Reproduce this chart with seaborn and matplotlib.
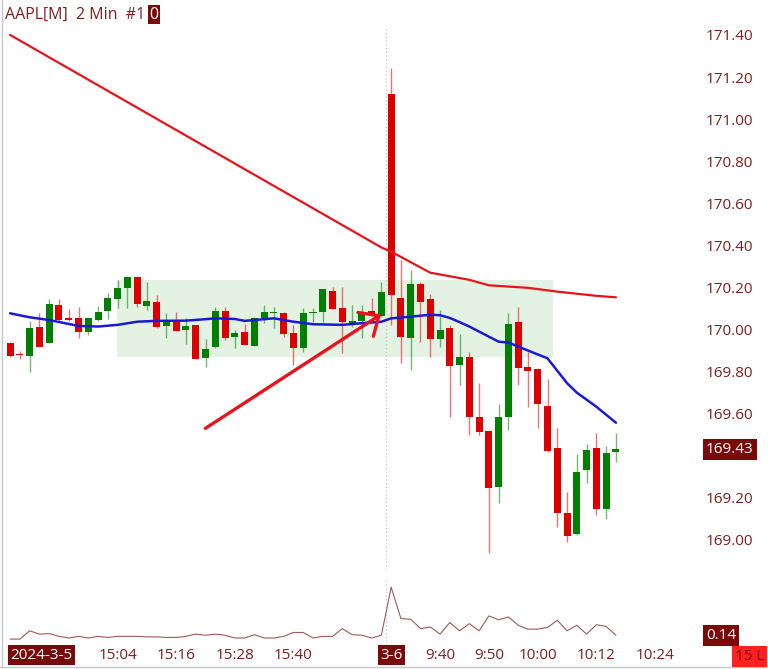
import numpy as np
import pandas as pd
import matplotlib
matplotlib.use('Agg')
import matplotlib.pyplot as plt
import seaborn as sns
from matplotlib.patches import Rectangle
from matplotlib.lines import Line2D
import matplotlib.transforms as mtransforms

# 2 min bars: 3-5 14:42..15:58 (39 bars), 3-6 9:30..10:16 (24 bars)
opens = [169.935, 169.880, 169.874, 170.011, 169.935, 170.115, 170.053, 170.053, 169.990, 170.045,
         170.088, 170.145, 170.199, 170.251, 170.113, 170.132, 170.018, 170.041, 169.998, 170.022,
         169.863, 169.916, 170.090, 169.963, 169.987, 169.923, 170.056, 170.078, 170.080, 169.985,
         169.911, 170.077, 170.085, 170.185, 170.101, 170.022, 170.041, 170.088, 170.063,
         171.118, 170.149, 169.961, 170.215, 170.144, 169.954, 170.006, 169.832, 169.868, 169.583,
         169.518, 169.250, 169.586, 170.035, 169.824, 169.813, 169.638, 169.439, 169.130, 169.027,
         169.330, 169.439, 169.149, 169.417]
highs = [169.942, 169.900, 170.041, 170.080, 170.145, 170.145, 170.098, 170.106, 170.053, 170.114,
         170.174, 170.234, 170.256, 170.256, 170.228, 170.164, 170.077, 170.085, 170.056, 170.022,
         169.955, 170.109, 170.109, 169.998, 170.025, 170.060, 170.117, 170.106, 170.085, 170.022,
         170.104, 170.104, 170.191, 170.204, 170.201, 170.117, 170.117, 170.149, 170.224,
         171.245, 170.331, 170.283, 170.228, 170.168, 170.093, 170.022, 169.977, 169.895, 169.748,
         169.520, 169.645, 170.077, 170.106, 169.895, 169.815, 169.765, 169.531, 169.229, 169.409,
         169.456, 169.507, 169.447, 169.507]
lows = [169.871, 169.858, 169.797, 169.915, 169.935, 170.041, 170.041, 169.959, 169.974, 170.042,
        170.050, 170.101, 170.104, 170.109, 170.093, 170.006, 169.959, 169.993, 169.932, 169.858,
        169.823, 169.914, 169.950, 169.911, 169.925, 169.920, 170.030, 170.009, 169.966, 169.832,
        169.892, 170.037, 170.037, 170.096, 169.887, 170.014, 169.959, 170.065, 170.060,
        170.022, 169.840, 169.808, 169.942, 169.871, 169.916, 169.586, 169.737, 169.499, 169.499,
        168.937, 169.174, 169.523, 169.737, 169.630, 169.531, 169.420, 169.060, 168.992, 169.025,
        169.269, 169.119, 169.098, 169.372]
closes = [169.874, 169.878, 170.009, 169.917, 170.120, 170.045, 170.047, 169.990, 170.053, 170.085,
          170.149, 170.199, 170.250, 170.120, 170.136, 170.014, 170.034, 169.995, 170.018, 169.860,
          169.907, 170.090, 169.961, 169.985, 169.927, 170.053, 170.085, 170.085, 169.979, 169.914,
          170.077, 170.081, 170.191, 170.098, 170.035, 170.041, 170.074, 170.074, 170.177,
          170.164, 169.966, 170.215, 170.132, 169.955, 169.998, 169.827, 169.867, 169.583, 169.515,
          169.245, 169.583, 170.027, 169.816, 169.805, 169.645, 169.424, 169.130, 169.019, 169.325,
          169.428, 169.149, 169.411, 169.431]

# lower indicator panel
indicator = [0.07, 0.07, 0.22, 0.16, 0.17, 0.12, 0.09, 0.12, 0.09, 0.12,
             0.10, 0.12, 0.12, 0.12, 0.11, 0.11, 0.10, 0.10, 0.12, 0.16,
             0.14, 0.16, 0.14, 0.09, 0.09, 0.15, 0.09, 0.09, 0.12, 0.19,
             0.19, 0.09, 0.12, 0.12, 0.26, 0.15, 0.14, 0.09, 0.14,
             1.01, 0.44, 0.43, 0.26, 0.29, 0.16, 0.37, 0.22, 0.35, 0.22,
             0.49, 0.42, 0.47, 0.32, 0.25, 0.25, 0.28, 0.41, 0.22, 0.32,
             0.16, 0.33, 0.30, 0.14]

# moving averages (bar index, price)
slow_idx = [0, 19, 38, 39, 43, 47, 49, 53, 56, 60, 62]
slow_val = [171.40, 170.895, 170.39, 170.37, 170.27, 170.236, 170.21, 170.198, 170.18, 170.16, 170.153]
fast_idx = [0, 2, 4, 7, 9, 11, 13, 15, 18, 20, 21, 23, 24, 26, 27, 29, 31, 34, 36, 38,
            39, 41, 43, 44, 45, 46, 47, 50, 51, 53, 55, 57, 58, 60, 62]
fast_val = [170.077, 170.058, 170.045, 170.017, 170.014, 170.022, 170.037, 170.041, 170.042, 170.049,
            170.053, 170.050, 170.041, 170.049, 170.053, 170.037, 170.025, 170.022, 170.030, 170.037,
            170.053, 170.061, 170.070, 170.068, 170.055, 170.035, 170.014, 169.942, 169.938, 169.900,
            169.863, 169.745, 169.700, 169.633, 169.557]

tick_pos = [0, 11, 17, 23, 29, 39, 44, 49, 54, 60, 66]
tick_lab = ['2024-3-5', '15:04', '15:16', '15:28', '15:40', '3-6', '9:40', '9:50', '10:00', '10:12', '10:24']
# 169.40 sits under the last-price tag, so it is not labelled
price_ticks = [169.0, 169.2, 169.6, 169.8, 170.0, 170.2, 170.4, 170.6, 170.8, 171.0, 171.2, 171.4]

zone = dict(x0=10.95, x1=55.6, low=169.870, high=170.236)
arrow_from = (19.75, 169.523)
arrow_to = (38.2, 170.079)
session_break = 38.5
last_price = closes[-1]
last_ind = indicator[-1]

bars = pd.DataFrame({'open': opens, 'high': highs, 'low': lows, 'close': closes})
bars['i'] = np.arange(len(bars))
bars['up'] = bars.close >= bars.open

sns.set_theme(style='white')
plt.rcParams['font.family'] = ['Open Sans', 'DejaVu Sans']

maroon = '#7f1f1f'
darkbox = '#7a0a0a'
red = '#dd0000'
green = '#008000'

fig = plt.figure(figsize=(7.68, 6.69), dpi=100)
ax = fig.add_axes([0.004, 0.148, 0.901, 0.852])
axv = fig.add_axes([0.004, 0.036, 0.901, 0.100], sharex=ax)

# zone box
ax.add_patch(Rectangle((zone['x0'], zone['low']), zone['x1'] - zone['x0'], zone['high'] - zone['low'],
                       facecolor='#e4f2e4', edgecolor='none', zorder=0))

# candles
cols = np.where(bars.up, green, red)
ax.vlines(bars.i, bars.low, bars.high, colors=cols, lw=1.0, alpha=0.55, zorder=2)
body = (bars.close - bars.open).abs().clip(lower=0.006)
bottom = bars[['open', 'close']].min(axis=1)
ax.bar(bars.i, body, bottom=bottom, width=0.72, color=cols, linewidth=0, zorder=3)

sns.lineplot(x=slow_idx, y=slow_val, ax=ax, color='#e8141b', lw=1.6, zorder=4)
sns.lineplot(x=fast_idx, y=fast_val, ax=ax, color='#1a1ad6', lw=1.8, zorder=4)

ax.annotate('', xy=arrow_to, xytext=arrow_from,
            arrowprops=dict(arrowstyle='->,head_length=0.95,head_width=0.85',
                            color='#e8141b', lw=2.4), zorder=5)

ax.axvline(session_break, ymin=0.0, ymax=0.955, color='#c4c4c4', lw=0.9, ls=(0, (1, 2)), zorder=1)
axv.axvline(session_break, color='#c4c4c4', lw=0.9, ls=(0, (1, 2)), zorder=1)
for a in (ax, axv):
    for s in a.spines.values():
        s.set_visible(False)

ax.set_xlim(-0.72, 70.1)
ax.set_ylim(168.857, 171.566)
ax.set_yticks(price_ticks)
ax.set_yticklabels(['%.2f' % p for p in price_ticks])
ax.yaxis.tick_right()
ax.tick_params(axis='y', length=0, pad=8, labelsize=11, labelcolor=maroon)
ax.tick_params(axis='x', bottom=False, labelbottom=False)
ax.set_xlabel('')
ax.set_ylabel('')

# last price tag
tr = mtransforms.blended_transform_factory(ax.transAxes, ax.transData)
ax.text(1.016, last_price, '%.2f' % last_price, transform=tr, ha='left', va='center',
        fontsize=11, color='white', zorder=10, clip_on=False,
        bbox=dict(boxstyle='square,pad=0.2', fc=darkbox, ec='none'))

# title
t = fig.text(0.0065, 0.978, 'AAPL[M]  2 Min  #1', ha='left', va='center', fontsize=11.5, color=maroon)
ax.annotate('0', xy=(1, 0.5), xycoords=t, xytext=(3, 0), textcoords='offset points',
            ha='left', va='center', fontsize=11.5, color='white',
            bbox=dict(boxstyle='square,pad=0.1', fc=darkbox, ec='none'))

# indicator panel
sns.lineplot(x=bars.i, y=indicator, ax=axv, color='#a05a5a', lw=0.8)
axv.set_ylim(-0.035, 1.175)
axv.set_yticks([])
axv.set_ylabel('')
axv.set_xlabel('')
axv.set_xticks(tick_pos)
axv.set_xticklabels(tick_lab)
axv.tick_params(axis='x', length=0, pad=2, labelsize=11, labelcolor=maroon)
for k, lab in enumerate(axv.get_xticklabels()):
    if k in (0, 5):
        lab.set_color('white')
        lab.set_bbox(dict(boxstyle='square,pad=0.15', fc=darkbox, ec='none'))
    if k == 0:
        lab.set_ha('left')
trv = mtransforms.blended_transform_factory(axv.transAxes, axv.transData)
axv.text(1.016, last_ind, '%.2f' % last_ind, transform=trv, ha='left', va='center',
         fontsize=11, color='white', clip_on=False,
         bbox=dict(boxstyle='square,pad=0.2', fc=darkbox, ec='none'))
fig.text(0.957, 0.019, '15 L', ha='left', va='center', fontsize=11, color=darkbox,
         bbox=dict(boxstyle='square,pad=0.2', fc='#ff2020', ec='none'))

# frame lines
fig.add_artist(Line2D([0.003, 0.003], [0.0, 1.0], color='#c8c8c8', lw=1))
fig.add_artist(Line2D([0.0, 1.0], [0.003, 0.003], color='#c8c8c8', lw=1))

fig.savefig('out.png', dpi=100)
